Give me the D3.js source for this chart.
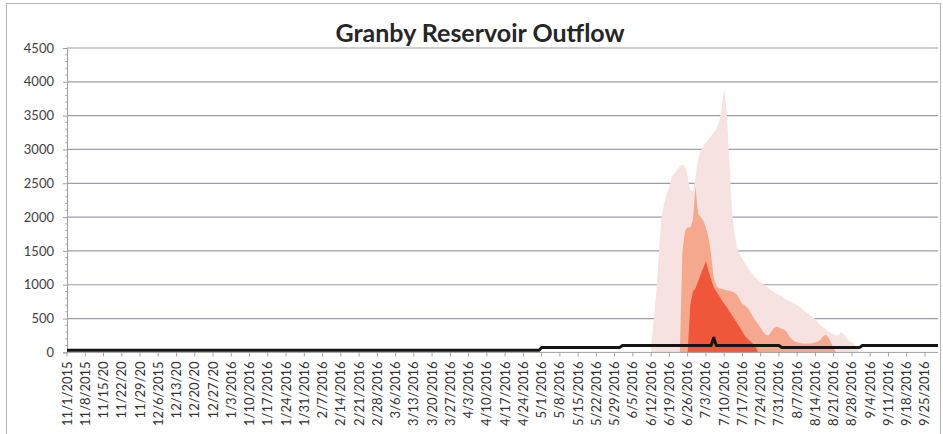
<!DOCTYPE html>
<html>
<head>
<meta charset="utf-8">
<script src="https://cdn.jsdelivr.net/npm/d3@7"></script>
<style>
  html, body { margin: 0; padding: 0; background: #fff; }
  svg { display: block; font-family: Lato, "Open Sans", sans-serif; }
</style>
</head>
<body>
<svg id="chart" width="943" height="434"></svg>
<script>
// ---- data ----
const chartTitle = "Granby Reservoir Outflow";
const axisStart = "2015-11-01";
const axisEnd = "2016-09-30";

const yTickValues = [0, 500, 1000, 1500, 2000, 2500, 3000, 3500, 4000, 4500];

// weekly category labels (long ones are clipped on the axis)
const xTickLabels = [
  "11/1/2015", "11/8/2015", "11/15/20", "11/22/20", "11/29/20", "12/6/2015",
  "12/13/20", "12/20/20", "12/27/20", "1/3/2016", "1/10/2016", "1/17/2016",
  "1/24/2016", "1/31/2016", "2/7/2016", "2/14/2016", "2/21/2016", "2/28/2016",
  "3/6/2016", "3/13/2016", "3/20/2016", "3/27/2016", "4/3/2016", "4/10/2016",
  "4/17/2016", "4/24/2016", "5/1/2016", "5/8/2016", "5/15/2016", "5/22/2016",
  "5/29/2016", "6/5/2016", "6/12/2016", "6/19/2016", "6/26/2016", "7/3/2016",
  "7/10/2016", "7/17/2016", "7/24/2016", "7/31/2016", "8/7/2016", "8/14/2016",
  "8/21/2016", "8/28/2016", "9/4/2016", "9/11/2016", "9/18/2016", "9/25/2016"
];

// observed outflow (cfs)
const outflowDates = [
  "2015-11-01", "2016-04-30", "2016-05-01", "2016-05-31", "2016-06-01",
  "2016-07-05", "2016-07-06", "2016-07-07", "2016-07-31", "2016-08-01",
  "2016-08-31", "2016-09-01", "2016-09-30"
];
const outflowValues = [30, 30, 74, 74, 103, 103, 213, 103, 103, 74, 74, 103, 103];

// daily flow ranges for the runoff season
const outerStart = "2016-06-12";
const outerValues = [
  100, 500, 900, 1500, 2000, 2200, 2350, 2450, 2600, 2650, 2700, 2750, 2780, 2750,
  2600, 2400, 2380, 2600, 2850, 2980, 3050, 3100, 3150, 3200, 3250, 3300, 3400, 3600,
  3900, 3550, 2800, 2100, 1750, 1550, 1450, 1380, 1320, 1260, 1200, 1150, 1100, 1070,
  1040, 1000, 980, 950, 920, 900, 870, 850, 830, 800, 780, 760, 740, 720, 700, 670,
  640, 610, 580, 550, 520, 490, 440, 400, 370, 340, 310, 290, 270, 250, 260, 300,
  260, 200, 170, 150, 110, 60, 0
];

const middleStart = "2016-06-23";
const middleValues = [
  0, 1500, 1800, 1850, 1850, 1950, 2450, 2050, 2000, 1950, 1850, 1700, 1450, 1100,
  980, 950, 940, 930, 920, 910, 900, 880, 850, 780, 720, 690, 660, 600, 530, 470,
  420, 360, 300, 260, 250, 300, 360, 380, 370, 350, 340, 300, 240, 190, 160, 150,
  140, 130, 130, 130, 130, 140, 150, 160, 190, 240, 260, 220, 140, 60, 0
];

const innerStart = "2016-06-26";
const innerValues = [
  0, 700, 900, 950, 1050, 1150, 1250, 1350, 1200, 1080, 960, 900, 840, 780, 720,
  670, 610, 550, 490, 430, 370, 300, 240, 200, 160, 130, 100, 0
];

// ---- layout ----
const svg = d3.select("#chart");
const plotLeft = 67, plotRight = 938, plotTop = 48, plotBottom = 352.4;
const parse = d3.utcParse("%Y-%m-%d");

const x = d3.scaleUtc().domain([parse(axisStart), parse(axisEnd)]).range([plotLeft, plotRight]);
const y = d3.scaleLinear().domain([0, 4500]).range([plotBottom, plotTop]);

// outer frame
svg.append("rect")
  .attr("x", 6.5).attr("y", 3.5).attr("width", 934).attr("height", 450)
  .attr("fill", "none").attr("stroke", "#b4b4b4").attr("stroke-width", 1);

// title
svg.append("text")
  .attr("x", 480).attr("y", 42)
  .attr("text-anchor", "middle")
  .attr("font-size", 25).attr("font-weight", "bold")
  .attr("fill", "#262626")
  .text(chartTitle);

// horizontal gridlines
svg.append("g")
  .selectAll("line")
  .data(yTickValues.filter(v => v > 0))
  .join("line")
  .attr("x1", plotLeft).attr("x2", plotRight)
  .attr("y1", d => y(d)).attr("y2", d => y(d))
  .attr("stroke", "#9c9cac").attr("stroke-width", 1.2);

// y axis
const yAxis = d3.axisLeft(y).tickValues(yTickValues).tickSize(4).tickFormat(d3.format("d"));
const gy = svg.append("g").attr("transform", `translate(${plotLeft},0)`).call(yAxis);
gy.select(".domain").attr("stroke", "#a0a0a0");
gy.selectAll(".tick line").attr("stroke", "#a0a0a0");
gy.selectAll(".tick text")
  .attr("x", -13)
  .attr("font-family", "Lato, 'Open Sans', sans-serif")
  .attr("font-size", 13).attr("fill", "#404040");
// minor ticks every 100
gy.append("g").selectAll("line")
  .data(d3.range(0, 4501, 100).filter(v => v % 500 !== 0))
  .join("line")
  .attr("x1", -2).attr("x2", 0)
  .attr("y1", d => y(d)).attr("y2", d => y(d))
  .attr("stroke", "#b0b0b0");

// season ranges
function seriesFrom(start, values) {
  const s = parse(start);
  return values.map((v, i) => ({ date: d3.utcDay.offset(s, i), value: v }));
}
const area = d3.area()
  .x(d => x(d.date))
  .y0(y(0))
  .y1(d => y(d.value));

const bands = [
  { data: seriesFrom(outerStart, outerValues), color: "#f6e3e1" },
  { data: seriesFrom(middleStart, middleValues), color: "#f6a88e" },
  { data: seriesFrom(innerStart, innerValues), color: "#f0573a" }
];
svg.append("g").selectAll("path")
  .data(bands)
  .join("path")
  .attr("d", d => area(d.data))
  .attr("fill", d => d.color);

// x axis ticks and labels
const tickData = xTickLabels.map((label, i) => ({
  date: d3.utcDay.offset(parse(axisStart), 7 * i),
  label
}));
const gx = svg.append("g");
gx.append("line")
  .attr("x1", plotLeft).attr("x2", plotRight)
  .attr("y1", plotBottom).attr("y2", plotBottom)
  .attr("stroke", "#a0a0a0");
gx.selectAll("line.tick")
  .data(tickData)
  .join("line")
  .attr("class", "tick")
  .attr("x1", d => x(d.date)).attr("x2", d => x(d.date))
  .attr("y1", plotBottom).attr("y2", plotBottom + 4)
  .attr("stroke", "#a0a0a0");
gx.selectAll("text")
  .data(tickData)
  .join("text")
  .attr("transform", d => `translate(${x(d.date) + 4.5},${plotBottom + 9}) rotate(-90)`)
  .attr("text-anchor", "end")
  .attr("font-size", 13)
  .attr("fill", "#333")
  .text(d => d.label);

// observed outflow line
const outflow = outflowDates.map((d, i) => ({ date: parse(d), value: outflowValues[i] }));
svg.append("path")
  .datum(outflow)
  .attr("d", d3.line().x(d => x(d.date)).y(d => y(d.value)))
  .attr("fill", "none")
  .attr("stroke", "#151515")
  .attr("stroke-width", 3)
  .attr("stroke-linejoin", "round");
</script>
</body>
</html>
